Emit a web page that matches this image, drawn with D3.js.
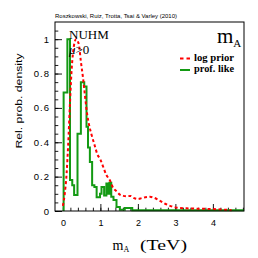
<!DOCTYPE html>
<html>
<head>
<meta charset="utf-8">
<script src="https://cdn.jsdelivr.net/npm/d3@7"></script>
<style>
  body { margin: 0; background: #fff; }
  svg { display: block; }
</style>
</head>
<body>
<svg id="chart"></svg>
<script>
// log prior (red dashed)
var priorX = [0.0, 0.05, 0.1, 0.14, 0.19, 0.23, 0.27, 0.31, 0.35, 0.39, 0.43, 0.48, 0.54, 0.6, 0.65, 0.7, 0.77, 0.85, 0.92, 1.0, 1.07, 1.16, 1.25, 1.34, 1.43, 1.52, 1.61, 1.7, 1.8, 1.9, 2.0, 2.1, 2.2, 2.32, 2.42, 2.52, 2.6, 2.7, 2.8, 2.9, 3.0, 3.2, 3.4, 3.6, 3.9, 4.2, 4.5];
var priorY = [0.03, 0.1, 0.22, 0.38, 0.63, 0.81, 0.92, 0.98, 1.0, 0.99, 0.965, 0.87, 0.77, 0.65, 0.56, 0.5, 0.44, 0.38, 0.33, 0.3, 0.26, 0.21, 0.18, 0.135, 0.115, 0.095, 0.088, 0.085, 0.088, 0.075, 0.07, 0.075, 0.08, 0.083, 0.078, 0.068, 0.058, 0.045, 0.035, 0.027, 0.021, 0.016, 0.015, 0.013, 0.012, 0.009, 0.005];

// profile likelihood (green histogram): left bin edges and heights
var likeEdges = [0.02, 0.12, 0.19, 0.25, 0.30, 0.39, 0.48, 0.57, 0.63, 0.67, 0.72, 0.78, 0.84, 0.90, 0.99, 1.03, 1.10, 1.16, 1.21, 1.24, 1.29, 1.35, 1.43, 1.52, 1.65, 1.85];
var likeVals  = [0.69, 1.0, 0.18, 0.15, 0.093, 0.45, 0.75, 0.725, 0.49, 0.37, 0.285, 0.15, 0.14, 0.08, 0.10, 0.14, 0.09, 0.16, 0.10, 0.165, 0.083, 0.064, 0.023, 0.008, 0.018, 0.004];

var xMajor = [0, 1, 2, 3, 4];
var yMajor = [0, 0.2, 0.4, 0.6, 0.8, 1];

var svgWidth = 258, svgHeight = 258;
var margin = { top: 22, right: 14, bottom: 47, left: 55 };
var width = svgWidth - margin.left - margin.right;
var height = svgHeight - margin.top - margin.bottom;

var svg = d3.select('#chart')
    .attr("width", svgWidth)
    .attr("height", svgHeight);

var g = svg.append("g")
    .attr("transform", "translate(" + margin.left + "," + margin.top + ")");

var x = d3.scaleLinear().domain([-0.21, 4.83]).range([0, width]);
var y = d3.scaleLinear().domain([0, 1.1]).range([height, 0]);

var sans = "'Liberation Sans', Arial, sans-serif";
var serif = "'Liberation Serif', 'Times New Roman', serif";

// minor ticks
g.append("g")
    .attr("transform", "translate(0," + height + ")")
    .call(d3.axisBottom(x).tickValues(d3.range(0, 4.81, 0.2)).tickSize(-3.3).tickFormat(""))
    .call(function(a) { a.select(".domain").remove(); });
g.append("g")
    .call(d3.axisLeft(y).tickValues(d3.range(0, 1.09, 0.05)).tickSize(-3.3).tickFormat(""))
    .call(function(a) { a.select(".domain").remove(); });

// major ticks + labels
var xAxis = g.append("g")
    .attr("transform", "translate(0," + height + ")")
    .call(d3.axisBottom(x).tickValues(xMajor).tickSize(-7).tickPadding(9).tickFormat(function(d) { return d; }));
xAxis.select(".domain").remove();
xAxis.selectAll("text").attr("font-family", sans).attr("font-size", 9).attr("fill", "#000");

var yAxis = g.append("g")
    .call(d3.axisLeft(y).tickValues(yMajor).tickSize(-7).tickPadding(5).tickFormat(function(d) { return d; }));
yAxis.select(".domain").remove();
yAxis.selectAll("text").attr("font-family", sans).attr("font-size", 9.5)
    .attr("letter-spacing", 1).attr("fill", "#000");

g.selectAll(".tick line").attr("stroke", "#000").attr("stroke-width", 0.9);

// curves
var priorData = priorX.map(function(d, i) { return { x: d, y: priorY[i] }; });
var likeData = [{ x: likeEdges[0], y: 0 }];
likeEdges.forEach(function(e, i) { likeData.push({ x: e, y: likeVals[i] }); });
likeData.push({ x: 4.83, y: likeVals[likeVals.length - 1] });

var line = d3.line()
    .x(function(d) { return x(d.x); })
    .y(function(d) { return y(d.y); });

g.append("path")
    .datum(likeData)
    .attr("fill", "none")
    .attr("stroke", "#139a13")
    .attr("stroke-width", 2)
    .attr("d", line.curve(d3.curveStepAfter));

g.append("path")
    .datum(priorData)
    .attr("fill", "none")
    .attr("stroke", "#ff0000")
    .attr("stroke-width", 2)
    .attr("stroke-dasharray", "3,2.5")
    .attr("d", line.curve(d3.curveMonotoneX));

// frame
g.append("rect")
    .attr("width", width).attr("height", height)
    .attr("fill", "none").attr("stroke", "#000").attr("stroke-width", 1);

// texts
svg.append("text")
    .attr("x", 55).attr("y", 18.3)
    .attr("font-family", sans).attr("font-size", 6)
    .attr("textLength", 122).attr("lengthAdjust", "spacingAndGlyphs")
    .text("Roszkowski, Ruiz, Trotta, Tsai & Varley (2010)");

svg.append("text")
    .attr("x", 69).attr("y", 39)
    .attr("font-family", serif).attr("font-size", 13)
    .text("NUHM");

var mu = svg.append("text")
    .attr("x", 69).attr("y", 53.5)
    .attr("font-family", serif).attr("font-size", 13);
mu.append("tspan").attr("font-style", "italic").text("μ");
mu.append("tspan").text(">0");

var mA = svg.append("text")
    .attr("x", 217).attr("y", 43)
    .attr("font-family", serif).attr("font-size", 21);
mA.append("tspan").text("m");
mA.append("tspan").attr("font-size", 11).attr("dy", 4).text("A");

// legend
var legend = [
    { label: "log prior", color: "#ff0000", dash: "3.5,3", y: 58.5 },
    { label: "prof. like", color: "#139a13", dash: null, y: 70 }
];
legend.forEach(function(l) {
    svg.append("line")
        .attr("x1", 180).attr("x2", 190)
        .attr("y1", l.y).attr("y2", l.y)
        .attr("stroke", l.color).attr("stroke-width", 2)
        .attr("stroke-dasharray", l.dash);
    svg.append("text")
        .attr("x", 194).attr("y", l.y + 2)
        .attr("font-family", serif).attr("font-weight", "bold").attr("font-size", 9.5)
        .attr("textLength", 40).attr("lengthAdjust", "spacingAndGlyphs")
        .text(l.label);
});

// axis titles
var xt = svg.append("text")
    .attr("x", 112.5).attr("y", 249.5)
    .attr("font-family", serif).attr("font-size", 14);
xt.append("tspan").text("m");
xt.append("tspan").attr("font-size", 8).attr("dy", 2.5).text("A");
svg.append("text")
    .attr("x", 140).attr("y", 249.5)
    .attr("font-family", serif).attr("font-size", 14)
    .attr("textLength", 47).attr("lengthAdjust", "spacingAndGlyphs")
    .text("(TeV)");

svg.append("text")
    .attr("transform", "translate(22,101) rotate(-90)")
    .attr("text-anchor", "middle")
    .attr("font-family", sans).attr("font-size", 9.5)
    .attr("textLength", 95).attr("lengthAdjust", "spacingAndGlyphs")
    .text("Rel. prob. density");
</script>
</body>
</html>
